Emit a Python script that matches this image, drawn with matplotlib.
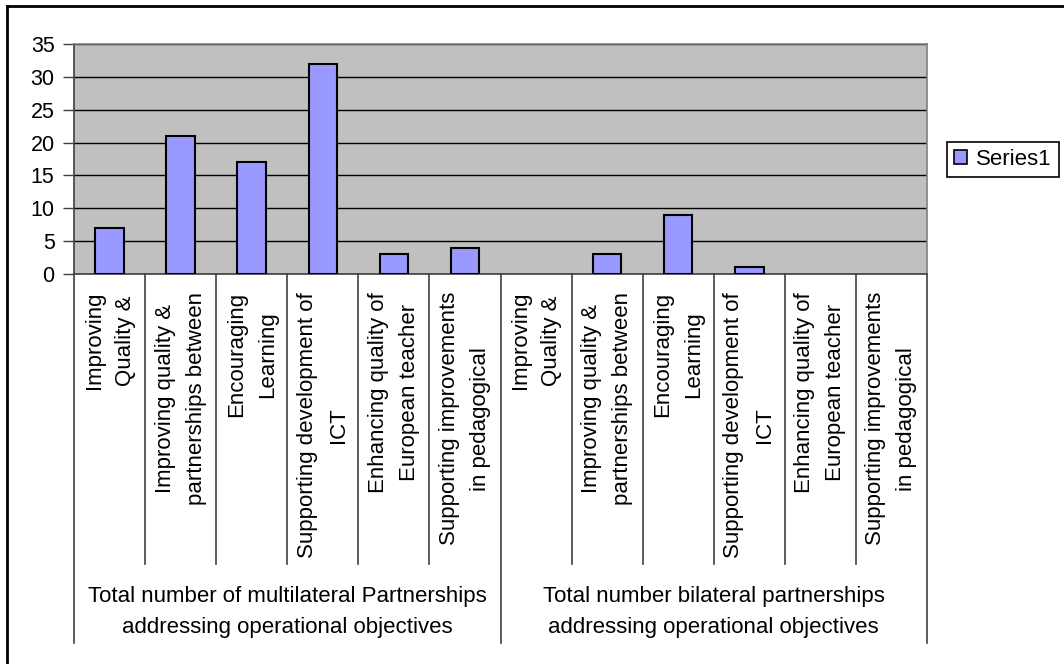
import matplotlib
matplotlib.use("Agg")
import matplotlib.pyplot as plt
from matplotlib.transforms import blended_transform_factory
from matplotlib.lines import Line2D
from matplotlib.patches import Patch

plt.rcParams['font.family'] = ['Liberation Sans', 'DejaVu Sans']

# ---- data ----
objectives = [
    "Improving\nQuality &",
    "Improving quality &\npartnerships between",
    "Encouraging\nLearning",
    "Supporting development of\nICT",
    "Enhancing quality of\nEuropean teacher",
    "Supporting improvements\nin pedagogical",
]
groups = [
    "Total number of multilateral Partnerships\naddressing operational objectives",
    "Total number bilateral partnerships\naddressing operational objectives",
]
multilateral = [7, 21, 17, 32, 3, 4]
bilateral = [0, 3, 9, 1, 0, 0]
series_name = "Series1"
yticks = [0, 5, 10, 15, 20, 25, 30, 35]

values = multilateral + bilateral
labels = objectives + objectives
n = len(values)

W, H = 1064, 664
fig = plt.figure(figsize=(W / 100, H / 100), dpi=100)
fig.patch.set_facecolor('white')

LABEL_FS = 16
TICK_FS = 15.5
LSP = 1.62

# plot area in pixels
L, R, T, B = 74, 927, 44, 274
ax = fig.add_axes([L / W, 1 - B / H, (R - L) / W, (B - T) / H])
ax.set_facecolor('#C0C0C0')

x = list(range(n))
lws = [1.5 if v > 0 else 0 for v in values]
ax.bar(x, values, width=0.4, color='#9999FF', edgecolor='black', linewidth=lws, zorder=3)

ax.set_xlim(-0.5, n - 0.5)
ax.set_ylim(0, 35)
ax.set_yticks(yticks)
ax.set_yticklabels([str(v) for v in yticks], fontsize=TICK_FS)
ax.tick_params(axis='y', length=8, width=1, pad=6, color='#404040')
ax.set_xticks([])
ax.yaxis.grid(True, color='black', linewidth=1, zorder=1)
ax.set_axisbelow(True)
for s in ['top', 'right']:
    ax.spines[s].set_color('#808080')
    ax.spines[s].set_linewidth(1.2)
ax.spines['left'].set_color('#404040')
ax.spines['bottom'].set_color('#404040')
ax.spines['left'].set_linewidth(1.2)
ax.spines['bottom'].set_linewidth(1.2)

# category & group axis lines
trans = blended_transform_factory(ax.transData, fig.transFigure)
def fy(py):
    return 1 - py / H

per_group = len(objectives)
for i in range(n + 1):
    xb = i - 0.5
    if i % per_group == 0:
        y_end = 643
    else:
        y_end = 564
    ax.add_line(Line2D([xb, xb], [fy(B), fy(y_end)], transform=trans,
                       color='#404040', linewidth=1.2, clip_on=False))

# category labels
for i, lab in enumerate(labels):
    ax.text(i, fy(292), lab, transform=trans, rotation=90, ha='center', va='top',
            multialignment='center', fontsize=LABEL_FS, linespacing=LSP)

# group labels
for g, glab in enumerate(groups):
    xc = g * per_group + (per_group - 1) / 2
    ax.text(xc, fy(586), glab, transform=trans, ha='center', va='top',
            multialignment='center', fontsize=LABEL_FS, linespacing=LSP)

# legend
handle = Patch(facecolor='#9999FF', edgecolor='black', linewidth=1.2)
leg = fig.legend([handle], [series_name], loc='upper left',
                 bbox_to_anchor=(947 / W, 1 - 142 / H), borderaxespad=0,
                 fancybox=False, edgecolor='black', fontsize=LABEL_FS,
                 handlelength=0.6, handleheight=0.6, handletextpad=0.4,
                 borderpad=0.32, framealpha=1)
leg.get_frame().set_linewidth(1.2)

# outer chart frame (top and left visible)
fig.add_artist(Line2D([7 / W, 1.05], [fy(6), fy(6)], transform=fig.transFigure,
                      color='black', linewidth=2))
fig.add_artist(Line2D([7 / W, 7 / W], [fy(6), -0.05], transform=fig.transFigure,
                      color='black', linewidth=2))

fig.savefig('out.png', dpi=100)
